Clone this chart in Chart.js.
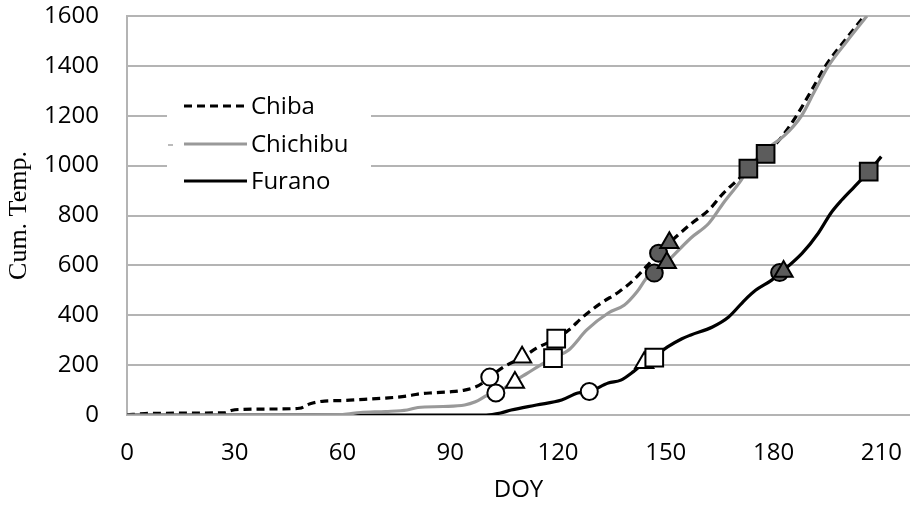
<!DOCTYPE html>
<html>
<head>
<meta charset="utf-8">
<script src="https://cdn.jsdelivr.net/npm/chart.js@4.4.1/dist/chart.umd.min.js"></script>
<style>
    html, body { margin: 0; padding: 0; background: #fff; }
    #wrap { width: 910px; height: 505px; }
</style>
</head>
<body>
<div id="wrap"><canvas id="cumChart" width="910" height="505"></canvas></div>
<script>
// cumulative temperature curves (DOY vs Cum. Temp.)
const chibaDoy = [0, 5, 10, 20, 27, 29, 31, 40, 48, 51, 55, 60, 66, 72, 78, 81, 85, 90, 94, 97, 99, 101, 105, 110, 114, 119.5, 123, 127, 132, 137, 141, 144.5, 148, 151, 157, 162, 166, 170, 174, 177.8, 182, 186.4, 190.5, 194.5, 200, 205.3];
const chibaCum = [0, 6, 7, 8, 9, 18, 22, 24, 27, 45, 56, 58, 63, 68, 76, 84, 89, 93, 100, 112, 128, 152, 194, 230, 268, 306, 341, 394, 449, 494, 541, 594, 648, 690, 766, 822, 889, 942, 995, 1047, 1110, 1200, 1300, 1400, 1505, 1600];

const chichibuDoy = [0, 40, 60, 65, 72, 78, 81, 88, 94, 97, 100.5, 103, 107, 111.5, 116, 118.5, 123, 128, 134, 138.5, 142, 145, 147, 150, 157, 162, 166, 171, 173, 178, 183, 187.8, 191.5, 195.3, 200.5, 206];
const chichibuCum = [0, 0, 2, 10, 14, 20, 30, 34, 40, 53, 80, 88, 128, 168, 208, 228, 261, 341, 409, 441, 494, 555, 569, 609, 710, 769, 849, 942, 988, 1065, 1120, 1200, 1300, 1400, 1500, 1600];

const furanoDoy = [0, 60, 100, 104, 107, 114, 121, 125.5, 128.7, 134, 137.5, 141, 144, 146.5, 150.5, 154.5, 157, 163, 167.5, 172, 175, 179.5, 182, 188, 192.5, 196, 199, 202.5, 206.5, 210];
const furanoCum = [0, 0, 0, 8, 20, 40, 60, 88, 94, 128, 140, 174, 210, 230, 273, 306, 321, 353, 393, 461, 500, 541, 571, 649, 730, 810, 862, 915, 976, 1036];

// stage markers: [Chiba, Chichibu, Furano]
const openCircleDoy = [101, 102.7, 128.7];
const openCircleCum = [152, 88, 94];
const openTriDoy = [110, 108, 144];
const openTriCum = [232, 130, 210];
const openSquareDoy = [119.5, 118.6, 146.8];
const openSquareCum = [306, 228, 230];
const fillCircleDoy = [148, 146.8, 181.7];
const fillCircleCum = [649, 569, 571];
const fillTriDoy = [151, 150.3, 182.8];
const fillTriCum = [691, 611, 575];
const fillSquareDoy = [177.8, 173, 206.5];
const fillSquareCum = [1047, 988, 976];

const xTicks = [0, 30, 60, 90, 120, 150, 180, 210];
const seriesNames = ['Chiba', 'Chichibu', 'Furano'];

const toPoints = (xs, ys) => xs.map((x, i) => ({ x: x, y: ys[i] }));

const SANS = "'Open Sans', 'Liberation Sans', sans-serif";
const GRID = '#b4b4b4';
const DARK = '#5c5c5c';

function markerSet(xs, ys, style, fill, radius) {
    return {
        type: 'scatter',
        data: toPoints(xs, ys),
        pointStyle: style,
        pointRadius: radius,
        pointHoverRadius: radius,
        pointBackgroundColor: fill,
        pointBorderColor: '#000',
        pointBorderWidth: 2,
        showLine: false,
        clip: false
    };
}

function lineSet(xs, ys, color, dash) {
    return {
        type: 'line',
        data: toPoints(xs, ys),
        borderColor: color,
        borderWidth: 3.2,
        borderDash: dash,
        pointRadius: 0,
        fill: false,
        cubicInterpolationMode: 'monotone'
    };
}

// no extra label padding from the scales, the layout padding decides
function noScalePadding(s) {
    s.paddingTop = 0;
    s.paddingBottom = 0;
    s.paddingLeft = 0;
    s.paddingRight = 0;
}

// legend box sitting inside the plot area
const insideLegend = {
    id: 'insideLegend',
    afterDraw(chart) {
        const ctx = chart.ctx;
        ctx.save();
        ctx.fillStyle = '#fff';
        ctx.fillRect(167, 78, 204, 126);
        // little grey stub left of the Chichibu sample, as in the source
        ctx.strokeStyle = '#bbb';
        ctx.lineWidth = 2;
        ctx.beginPath();
        ctx.moveTo(168, 145);
        ctx.lineTo(173, 145);
        ctx.stroke();
        const rows = [
            { y: 106, color: '#000', dash: [8, 5] },
            { y: 144, color: '#999', dash: [] },
            { y: 181, color: '#000', dash: [] }
        ];
        ctx.font = '24px ' + SANS;
        ctx.textBaseline = 'middle';
        rows.forEach((r, i) => {
            ctx.beginPath();
            ctx.setLineDash(r.dash);
            ctx.strokeStyle = r.color;
            ctx.lineWidth = 3.2;
            ctx.moveTo(184, r.y);
            ctx.lineTo(247, r.y);
            ctx.stroke();
            ctx.setLineDash([]);
            ctx.fillStyle = '#000';
            ctx.fillText(seriesNames[i], 251, r.y + 1);
        });
        ctx.restore();
    }
};

new Chart(document.getElementById('cumChart'), {
    data: {
        datasets: [
            markerSet(fillSquareDoy, fillSquareCum, 'rect', DARK, 12.5),
            markerSet(fillTriDoy, fillTriCum, 'triangle', DARK, 10.5),
            markerSet(fillCircleDoy, fillCircleCum, 'circle', DARK, 8.5),
            markerSet(openSquareDoy, openSquareCum, 'rect', '#fff', 12.5),
            markerSet(openTriDoy, openTriCum, 'triangle', '#fff', 10.5),
            markerSet(openCircleDoy, openCircleCum, 'circle', '#fff', 8.5),
            lineSet(chichibuDoy, chichibuCum, '#999', []),
            lineSet(chibaDoy, chibaCum, '#000', [8, 5]),
            lineSet(furanoDoy, furanoCum, '#000', [])
        ]
    },
    options: {
        responsive: false,
        animation: false,
        events: [],
        layout: { autoPadding: false, padding: { top: 16, right: 0, bottom: 0, left: 0 } },
        plugins: {
            legend: { display: false },
            tooltip: { enabled: false }
        },
        scales: {
            x: {
                type: 'linear',
                min: 0,
                max: 218,
                afterFit: s => { s.height = 90; noScalePadding(s); },
                afterBuildTicks: s => { s.ticks = xTicks.map(v => ({ value: v })); },
                grid: { display: false, drawTicks: false },
                border: { display: true, color: GRID, width: 2 },
                ticks: {
                    color: '#000',
                    padding: 24,
                    maxRotation: 0,
                    font: { family: SANS, size: 24 }
                },
                title: {
                    display: true,
                    text: 'DOY',
                    color: '#000',
                    padding: { top: 0, bottom: 0 },
                    font: { family: SANS, size: 24 }
                }
            },
            y: {
                min: 0,
                max: 1600,
                afterFit: s => { s.width = 127; noScalePadding(s); },
                grid: { color: GRID, lineWidth: 2, drawTicks: false },
                border: { display: true, color: GRID, width: 2 },
                ticks: {
                    stepSize: 200,
                    color: '#000',
                    padding: 28,
                    font: { family: SANS, size: 24 },
                    callback: v => String(v)
                },
                title: {
                    display: true,
                    text: 'Cum. Temp.',
                    color: '#000',
                    padding: { top: 4, bottom: 0 },
                    font: { family: "'Liberation Serif', 'DejaVu Serif', serif", size: 26 }
                }
            }
        }
    },
    plugins: [insideLegend]
});
</script>
</body>
</html>
